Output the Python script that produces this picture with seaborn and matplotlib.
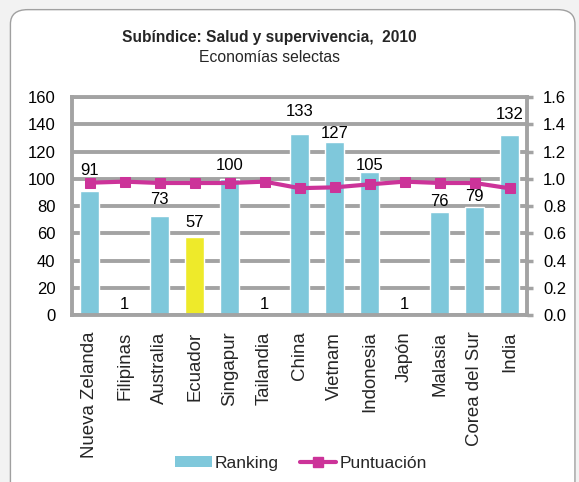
import matplotlib
matplotlib.use("Agg")
import matplotlib.pyplot as plt
import seaborn as sns
import pandas as pd
from matplotlib.patches import FancyBboxPatch, Patch
from matplotlib.lines import Line2D

paises = ["Nueva Zelanda", "Filipinas", "Australia", "Ecuador", "Singapur", "Tailandia",
          "China", "Vietnam", "Indonesia", "Japón", "Malasia", "Corea del Sur", "India"]
ranking = [91, 1, 73, 57, 100, 1, 133, 127, 105, 1, 76, 79, 132]
puntuacion = [0.972, 0.980, 0.970, 0.970, 0.970, 0.980, 0.932, 0.938, 0.960, 0.980, 0.970, 0.970, 0.931]
destacado = "Ecuador"
# vertical offsets (points) of the data labels above the bar tops
label_offset = [15, 6.5, 11.5, 11, 9.5, 6.5, 16, 6.5, 5, 6.5, 7.5, 8, 15]

sns.set_theme(style="white")
plt.rcParams['font.family'] = ['Liberation Sans', 'DejaVu Sans']

df = pd.DataFrame({"pais": paises, "ranking": ranking, "puntuacion": puntuacion})
bar_color = "#7fc8db"
hl_color = "#eeea2a"
line_color = "#cc3399"
grid_color = "#a3a3a3"
palette = {p: (hl_color if p == destacado else bar_color) for p in paises}

fig = plt.figure(figsize=(5.79, 4.82), dpi=100)
fig.patch.set_facecolor("#f2f2f2")
box = FancyBboxPatch((0.018, -0.05), 0.975, 1.03, boxstyle="round,pad=0,rounding_size=0.03",
                     transform=fig.transFigure, facecolor="white", edgecolor="#a0a0a0",
                     linewidth=1.0, zorder=-10)
fig.patches.append(box)

ax = fig.add_axes([0.1244, 0.3465, 0.786, 0.4517])
ax.patch.set_alpha(0)
sns.barplot(data=df, x="pais", y="ranking", hue="pais", palette=palette, legend=False,
            width=0.56, ax=ax, saturation=1)
ax.set_ylim(0, 160)
ax.set_yticks(range(0, 161, 20))
ax.set_xlim(-0.5, len(paises) - 0.5)
ax.set_xlabel("")
ax.set_ylabel("")
ax.yaxis.grid(True, color=grid_color, linewidth=2.8)
ax.set_axisbelow(True)
for s in ax.spines.values():
    s.set_color(grid_color)
    s.set_linewidth(2.8)
ax.tick_params(axis="y", labelsize=12, colors="black", length=0, pad=12)
ax.tick_params(axis="x", labelsize=13.4, length=0, pad=12)
for lbl in ax.get_xticklabels():
    lbl.set_rotation(90)

for i, v in enumerate(ranking):
    ax.annotate(str(v), (i, v), xytext=(0, label_offset[i]), textcoords="offset points",
                ha="center", va="center", fontsize=12, color="black")

ax2 = ax.twinx()
sns.lineplot(x=list(range(len(paises))), y=puntuacion, ax=ax2, color=line_color,
             linewidth=3.0, marker="s", markersize=6.5, markeredgecolor=line_color)
ax2.set_ylim(0, 1.6)
ax2.set_yticks([i / 10 for i in range(0, 17, 2)])
ax2.set_yticklabels([f"{i/10:.1f}" for i in range(0, 17, 2)])
ax2.tick_params(axis="y", labelsize=12, colors="black", length=4.5, color=grid_color, width=2.5, pad=7)
for lbl in ax2.get_yticklabels():
    lbl.set_color("black")
for s in ax2.spines.values():
    s.set_visible(False)
ax2.grid(False)

fig.text(0.465, 0.923, "Subíndice: Salud y supervivencia,  2010", ha="center", va="center",
         fontsize=11.2, fontweight="bold")
fig.text(0.465, 0.881, "Economías selectas", ha="center", va="center", fontsize=11.3)

handles = [Patch(facecolor=bar_color, edgecolor="none", label="Ranking"),
           Line2D([0], [0], color=line_color, linewidth=3.0, marker="s", markersize=6.5, label="Puntuación")]
fig.legend(handles=handles, loc="center", bbox_to_anchor=(0.52, 0.039), ncol=2, frameon=False,
           fontsize=12.5, handlelength=2.1, handleheight=0.6, handletextpad=0.2, columnspacing=1.2)

fig.savefig("out.png", dpi=100, facecolor=fig.get_facecolor())
